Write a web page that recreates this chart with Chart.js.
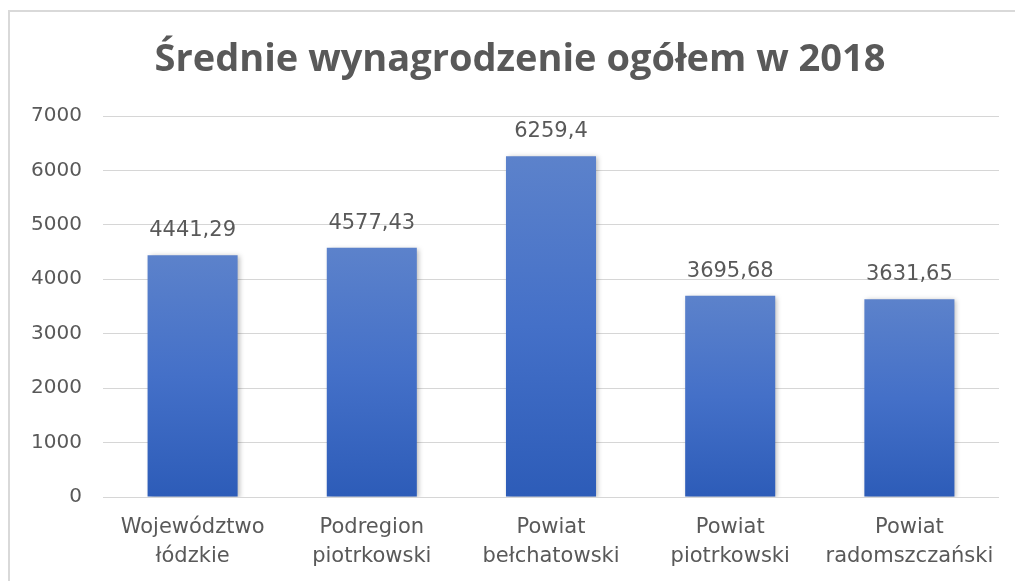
<!DOCTYPE html>
<html><head><meta charset="utf-8">
<script src="https://cdn.jsdelivr.net/npm/chart.js@4/dist/chart.umd.min.js"></script>
<style>
html,body{margin:0;padding:0;background:#fff;overflow:hidden}
#frame{position:absolute;left:8px;top:10px;width:1100px;height:700px;border-top:2px solid #d9d9d9;border-left:2px solid #d9d9d9;box-sizing:border-box}
#wrap{position:absolute;left:0;top:0;width:1015px;height:581px}
</style></head><body>
<div id="frame"></div>
<div id="wrap"><canvas id="c" width="1015" height="581"></canvas></div>
<script>
const titleText = "Średnie wynagrodzenie ogółem w 2018";
const categories = [["Województwo","łódzkie"],["Podregion","piotrkowski"],["Powiat","bełchatowski"],["Powiat","piotrkowski"],["Powiat","radomszczański"]];
const values = [4441.29, 4577.43, 6259.4, 3695.68, 3631.65];
const yMin = 0, yMax = 7000, yStep = 1000;

const textColor = '#595959';
const FONT = "'DejaVu Sans', sans-serif";

function barGradient(ctx) {
  const chart = ctx.chart;
  const area = chart.chartArea;
  if (!area || ctx.type !== 'data') return '#4472c4';
  const yScale = chart.scales.y;
  const top = yScale.getPixelForValue(ctx.parsed.y);
  const bottom = yScale.getPixelForValue(0);
  const g = chart.ctx.createLinearGradient(0, top, 0, bottom);
  g.addColorStop(0, '#5c82cb');
  g.addColorStop(0.5, '#4470c8');
  g.addColorStop(1, '#2d5cb8');
  return g;
}

const titlePlugin = {
  id: 'customTitle',
  afterDraw(chart) {
    const c = chart.ctx;
    c.save();
    c.font = "bold 38px 'Open Sans', sans-serif";
    c.fillStyle = textColor;
    c.textAlign = 'center';
    c.textBaseline = 'alphabetic';
    c.fillText(titleText, 520, 71);
    c.restore();
  }
};

const shadowPlugin = {
  id: 'barShadow',
  beforeDatasetsDraw(chart) {
    const c = chart.ctx;
    c.save();
    c.shadowColor = 'rgba(0,0,0,0.28)';
    c.shadowBlur = 5;
    c.shadowOffsetX = 2;
    c.shadowOffsetY = 1;
  },
  afterDatasetsDraw(chart) {
    chart.ctx.restore();
  }
};

const labelPlugin = {
  id: 'valueLabels',
  afterDatasetsDraw(chart) {
    const c = chart.ctx;
    const meta = chart.getDatasetMeta(0);
    c.save();
    c.font = "21px " + FONT;
    c.fillStyle = textColor;
    c.textAlign = 'center';
    c.textBaseline = 'alphabetic';
    meta.data.forEach((el, i) => {
      const txt = String(chart.data.datasets[0].data[i]).replace('.', ',');
      c.fillText(txt, el.x, el.y - 19);
    });
    c.restore();
  }
};

new Chart(document.getElementById('c'), {
  type: 'bar',
  data: {
    labels: categories,
    datasets: [{
      data: values,
      backgroundColor: barGradient,
      borderWidth: 0,
      barPercentage: 0.5025,
      categoryPercentage: 1.0
    }]
  },
  options: {
    responsive: false,
    animation: false,
    devicePixelRatio: 1,
    layout: { padding: { left: 0, right: 16, top: 116, bottom: 0 } },
    plugins: {
      legend: { display: false },
      tooltip: { enabled: false },
      title: { display: false }
    },
    scales: {
      x: {
        grid: { display: false, drawTicks: false },
        border: { display: false },
        ticks: {
          color: textColor,
          font: { family: FONT, size: 21, lineHeight: '29px' },
          padding: 16,
          maxRotation: 0,
          autoSkip: false
        },
        afterFit(s) { s.height = 84; }
      },
      y: {
        min: yMin, max: yMax,
        grid: { color: '#d6d6d6', lineWidth: 1, drawTicks: false },
        border: { display: false },
        ticks: {
          stepSize: yStep,
          color: textColor,
          font: { family: FONT, size: 20 },
          padding: 21,
          callback: v => String(v)
        },
        afterFit(s) { s.width = 103; }
      }
    }
  },
  plugins: [shadowPlugin, labelPlugin, titlePlugin]
});
</script>
</body></html>
